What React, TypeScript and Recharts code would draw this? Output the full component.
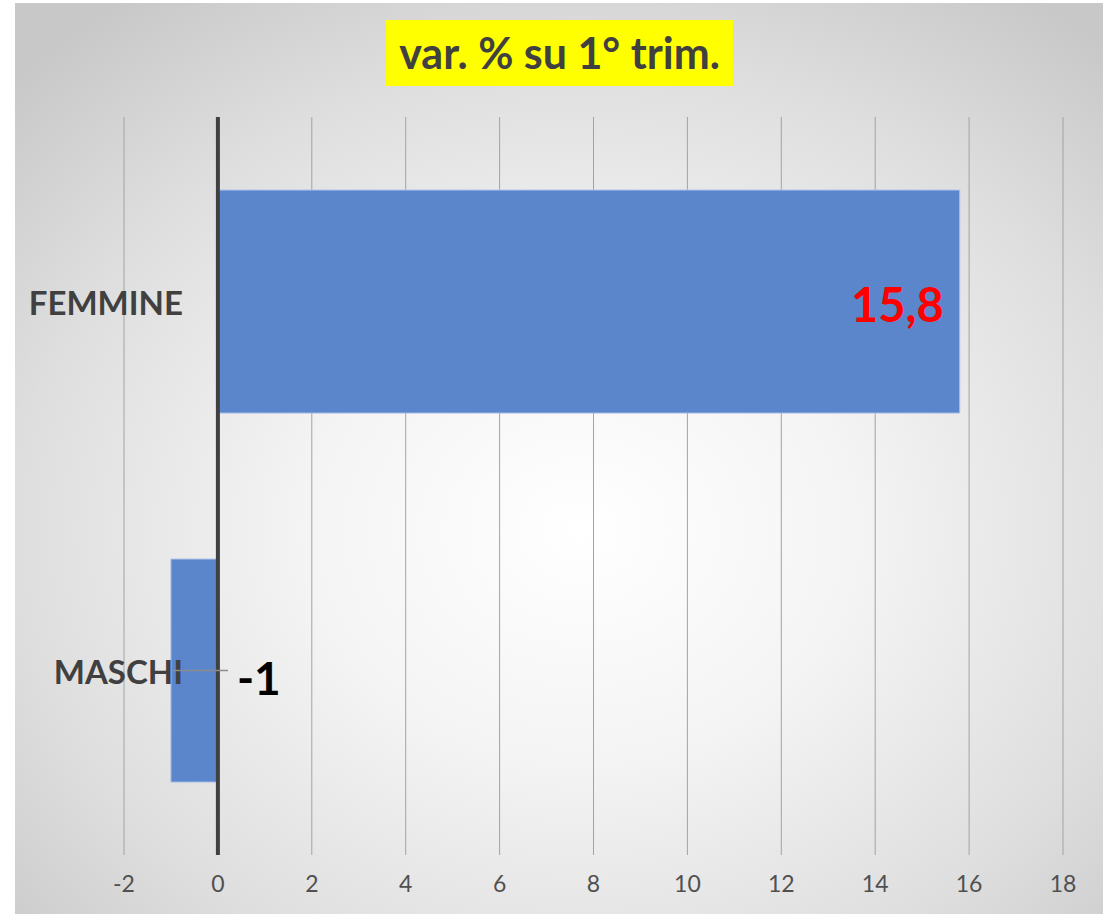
import React from "react";
import { BarChart, Bar, XAxis, YAxis, CartesianGrid, ReferenceLine, LabelList } from "recharts";

const categories = ["FEMMINE", "MASCHI"];
const values = [15.8, -1];
const valueLabels = ["15,8", "-1"];
const xTicks = [-2, 0, 2, 4, 6, 8, 10, 12, 14, 16, 18];

const data = categories.map((name, i) => ({ name, value: values[i], label: valueLabels[i] }));

const FONT = "Lato, 'Open Sans', sans-serif";

const CategoryTick = (props: any) => {
  const { x, y, payload } = props;
  return (
    <text
      x={x + 59}
      y={y}
      textAnchor="end"
      dominantBaseline="central"
      fontFamily={FONT}
      fontWeight={700}
      fontSize={33}
      fill="#404040"
    >
      {payload.value}
    </text>
  );
};

const ValueLabel = (props: any) => {
  const { x, y, width, height, index } = props;
  const left = Math.min(x, x + width);
  const right = Math.max(x, x + width);
  const cy = y + height / 2;
  const v = values[index];
  if (v >= 0) {
    return (
      <text
        x={right - 16}
        y={cy + 2}
        textAnchor="end"
        dominantBaseline="central"
        fontFamily={FONT}
        fontWeight={700}
        fontSize={47}
        fill="#ff0000"
      >
        {valueLabels[index]}
      </text>
    );
  }
  return (
    <g>
      <line x1={left + 2} x2={right + 10} y1={cy} y2={cy} stroke="#8c8c8c" strokeWidth={1.5} />
      <text
        x={right + 19}
        y={cy + 7}
        textAnchor="start"
        dominantBaseline="central"
        fontFamily={FONT}
        fontWeight={700}
        fontSize={46}
        fill="#000000"
      >
        {valueLabels[index]}
      </text>
    </g>
  );
};

export default function App() {
  return (
    <div
      style={{
        position: "absolute",
        left: 15,
        top: 3,
        width: 1088,
        height: 911,
        background:
          "radial-gradient(ellipse 72% 72% at 52% 58%, #ffffff 0%, #f4f4f4 35%, #dedede 72%, #c8c8c8 100%)",
      }}
    >
      <div
        style={{
          position: "absolute",
          left: 371,
          top: 17,
          width: 347,
          height: 66,
          background: "#ffff00",
          color: "#404040",
          fontFamily: FONT,
          fontWeight: 700,
          fontSize: 43,
          lineHeight: "66px",
          textAlign: "center",
          whiteSpace: "nowrap",
        }}
      >
        var. % su 1° trim.
      </div>
      <BarChart
        width={1088}
        height={911}
        data={data}
        layout="vertical"
        margin={{ top: 114, right: 40, bottom: 19, left: 0 }}
        barCategoryGap="19.8%"
        style={{ position: "absolute", left: 0, top: 0 }}
      >
        <CartesianGrid horizontal={false} vertical={true} stroke="#a3a3a3" strokeWidth={1} />
        <XAxis
          type="number"
          domain={[-2, 18]}
          ticks={xTicks}
          interval={0}
          axisLine={false}
          tickLine={false}
          tickSize={0}
          tickMargin={21}
          height={40}
          tick={{ fill: "#505050", fontSize: 23, fontFamily: FONT }}
        />
        <YAxis
          type="category"
          dataKey="name"
          width={109}
          axisLine={false}
          tickLine={false}
          tickSize={0}
          tickMargin={0}
          tick={<CategoryTick />}
        />
        <Bar
          dataKey="value"
          fill="#5b86cc"
          stroke="#a9c0e6"
          strokeWidth={1}
          isAnimationActive={false}
        >
          <LabelList dataKey="value" content={<ValueLabel />} />
        </Bar>
        <ReferenceLine x={0} stroke="#404040" strokeWidth={4} />
      </BarChart>
    </div>
  );
}
